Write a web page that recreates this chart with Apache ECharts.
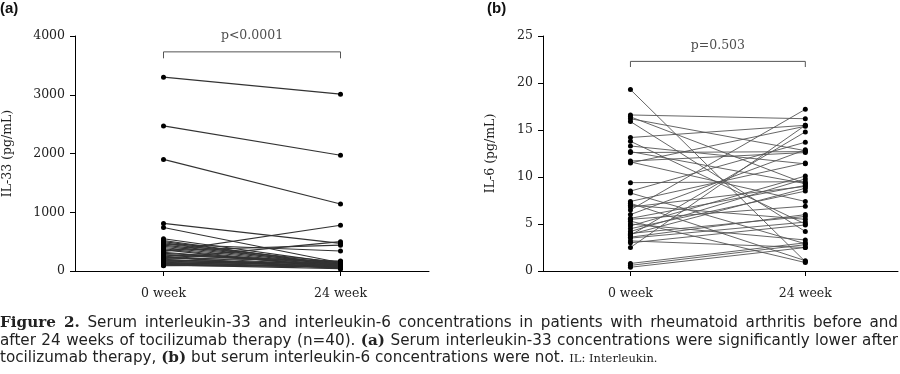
<!DOCTYPE html>
<html>
<head>
<meta charset="utf-8">
<script src="https://cdn.jsdelivr.net/npm/echarts@6/dist/echarts.min.js"></script>
<style>
html,body{margin:0;padding:0;background:#fff;}
#wrap{position:relative;width:900px;height:374px;overflow:hidden;}
#chart{position:absolute;left:0;top:0;width:900px;height:374px;}
#caption{position:absolute;left:0;top:314px;width:898px;font-family:"DejaVu Sans",sans-serif;font-size:15.2px;line-height:17.5px;color:#222;}
#caption div{text-align:justify;text-align-last:justify;white-space:nowrap;}
#caption div.last{text-align-last:left;}
#caption b{font-family:"DejaVu Serif",serif;font-weight:bold;}
#caption small{font-family:"DejaVu Serif",serif;font-size:11.5px;}
</style>
</head>
<body>
<div id="wrap">
<div id="chart"></div>
<div id="caption">
<div><b>Figure 2.</b> Serum interleukin-33 and interleukin-6 concentrations in patients with rheumatoid arthritis before and</div>
<div>after 24 weeks of tocilizumab therapy (n=40). <b>(a)</b> Serum interleukin-33 concentrations were significantly lower after</div>
<div class="last">tocilizumab therapy, <b>(b)</b> but serum interleukin-6 concentrations were not. <small>IL: Interleukin.</small></div>
</div>
</div>
<script>
// Categories / tick labels
const timepoints = ['0 week', '24 week'];
const il33Ticks = [0, 1000, 2000, 3000, 4000];
const il6Ticks = [0, 5, 10, 15, 20, 25];

// Panel (a): IL-33 (pg/mL), paired values per patient
const il33Week0 = [3300, 2470, 1900, 810, 740, 550, 500, 480, 460, 440,
                   420, 400, 350, 330, 300, 280, 250, 230, 210, 190,
                   170, 150, 130, 110, 100, 90, 360, 320, 270, 220,
                   180, 160, 140, 120, 520, 460, 380, 240, 200, 105];
const il33Week24 = [3010, 1970, 1140, 470, 140, 130, 110, 90, 340, 120,
                    100, 80, 440, 780, 150, 120, 90, 60, 500, 110,
                    80, 60, 140, 90, 70, 100, 50, 80, 160, 170,
                    130, 100, 60, 70, 100, 150, 60, 40, 50, 40];

// Panel (b): IL-6 (pg/mL), paired values per patient
const il6Week0 = [19.3, 16.6, 16.4, 16.2, 15.9, 14.2, 13.8, 13.3, 12.6, 11.7,
                  11.5, 11.6, 9.4, 8.5, 8.3, 7.4, 7.0, 6.8, 6.5, 6.0,
                  5.6, 5.3, 5.0, 4.8, 4.5, 4.2, 4.0, 3.8, 3.6, 3.5,
                  3.9, 3.2, 3.0, 2.5, 0.8, 0.6, 0.4, 7.2, 5.5, 12.7];
const il6Week24 = [1.0, 16.2, 9.3, 12.8, 4.2, 15.5, 5.0, 11.4, 12.7, 12.6,
                   15.4, 7.4, 9.5, 13.7, 2.9, 11.5, 5.5, 9.0, 17.2, 12.9,
                   9.1, 0.9, 3.3, 10.1, 8.5, 9.8, 5.8, 14.8, 6.0, 5.2,
                   8.8, 2.5, 4.9, 15.5, 3.0, 2.8, 2.5, 1.1, 6.9, 9.3];

// Significance annotations
const pTextA = 'p<0.0001';
const pTextB = 'p=0.503';
const bracketA = [3620, 3730];   // end level, bar level
const bracketB = [21.7, 22.3];

const SERIF = '"DejaVu Serif", serif';

function pairSeries(w0, w24, idx, color, width) {
  const out = [];
  for (let i = 0; i < w0.length; i++) {
    out.push({
      type: 'line', xAxisIndex: idx, yAxisIndex: idx,
      data: [[0, w0[i]], [1, w24[i]]],
      symbol: 'circle', symbolSize: 5,
      itemStyle: {color: '#000'},
      lineStyle: {color: color, width: width},
      animation: false, silent: true, z: 3
    });
  }
  return out;
}

function bracket(idx, b, text) {
  return [{
    type: 'line', xAxisIndex: idx, yAxisIndex: idx,
    data: [[0, b[0]], [0, b[1]], [1, b[1]], [1, b[0]]],
    symbol: 'none', lineStyle: {color: '#555', width: 1},
    animation: false, silent: true
  }, {
    type: 'scatter', xAxisIndex: idx, yAxisIndex: idx,
    data: [[0.5, b[1]]], symbolSize: 1, itemStyle: {color: 'rgba(0,0,0,0)'},
    label: {show: true, position: 'top', distance: 9, formatter: text,
            fontFamily: SERIF, fontSize: 12.5, color: '#222'},
    animation: false, silent: true
  }];
}

function xAxis(gi, max) {
  return {
    type: 'value', gridIndex: gi, min: -0.5, max: max, interval: 0.5,
    axisLine: {show: true, onZero: false, lineStyle: {color: '#000', width: 1}},
    axisTick: {show: true, length: 5, inside: false, lineStyle: {color: '#000'},
               customValues: [0, 1]},
    axisLabel: {show: true, margin: 16, fontFamily: SERIF, fontSize: 12.5, color: '#222',
                customValues: [0, 1],
                formatter: v => timepoints[Math.round(v)]},
    splitLine: {show: false}
  };
}

function yAxis(gi, max, interval, name, gap) {
  return {
    type: 'value', gridIndex: gi, min: 0, max: max, interval: interval,
    name: name, nameLocation: 'middle', nameGap: gap, nameRotate: 90,
    nameTextStyle: {fontFamily: SERIF, fontSize: 12.5, color: '#222'},
    axisLine: {show: true, onZero: false, lineStyle: {color: '#000', width: 1}},
    axisTick: {show: true, length: 5, lineStyle: {color: '#000'}},
    axisLabel: {margin: 10, fontFamily: SERIF, fontSize: 12.5, color: '#222',
                formatter: v => String(v)},
    splitLine: {show: false}
  };
}

const chart = echarts.init(document.getElementById('chart'), null, {renderer: 'canvas'});
chart.setOption({
  backgroundColor: '#fff',
  animation: false,
  grid: [
    {left: 73, top: 36, width: 356, height: 235},
    {left: 543, top: 36, width: 355, height: 235}
  ],
  xAxis: [xAxis(0, 1.5), xAxis(1, 1.53)],
  yAxis: [
    yAxis(0, il33Ticks[il33Ticks.length - 1], il33Ticks[1] - il33Ticks[0], 'IL-33 (pg/mL)', 61),
    yAxis(1, il6Ticks[il6Ticks.length - 1], il6Ticks[1] - il6Ticks[0], 'IL-6 (pg/mL)', 46)
  ],
  graphic: [
    {type: 'text', left: 0, top: 1, style: {text: '(a)', font: 'bold 15px "Liberation Sans", Arial, sans-serif', fill: '#111'}},
    {type: 'text', left: 487, top: 1, style: {text: '(b)', font: 'bold 15px "Liberation Sans", Arial, sans-serif', fill: '#111'}}
  ],
  series: [].concat(
    pairSeries(il33Week0, il33Week24, 0, '#333', 1.1),
    pairSeries(il6Week0, il6Week24, 1, '#555', 0.9),
    bracket(0, bracketA, pTextA),
    bracket(1, bracketB, pTextB)
  )
});
</script>
</body>
</html>
